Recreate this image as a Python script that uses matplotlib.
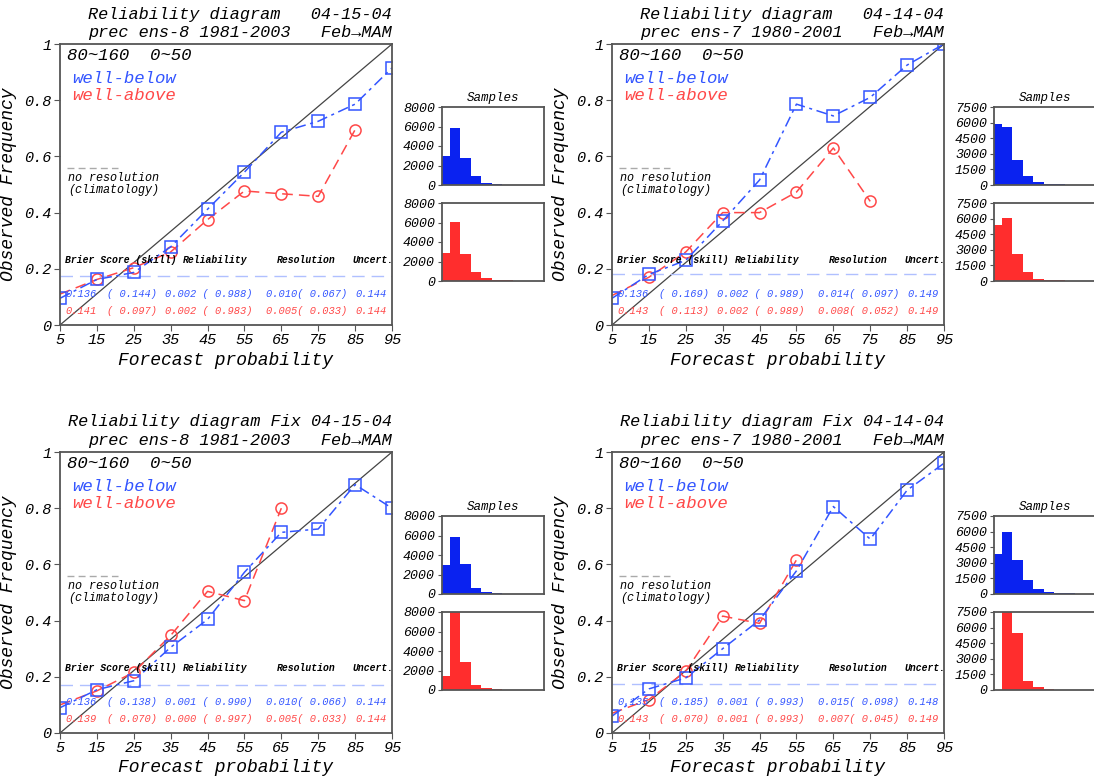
import matplotlib
matplotlib.use("Agg")
import matplotlib.pyplot as plt

plt.rcParams['font.family'] = ['Liberation Mono', 'DejaVu Sans Mono']
plt.rcParams['font.style'] = 'italic'

# forecast probability bins (percent)
probs = [5, 15, 25, 35, 45, 55, 65, 75, 85, 95]
bin_edges = [0, 10, 20, 30, 40, 50, 60, 70, 80, 90]

# observed frequency, per panel
tl_below = [0.095, 0.162, 0.187, 0.278, 0.412, 0.544, 0.686, 0.725, 0.786, 0.915]
tl_above = [0.11, 0.162, 0.204, 0.26, 0.375, 0.477, 0.467, 0.458, 0.695]
tr_below = [0.095, 0.18, 0.23, 0.37, 0.516, 0.786, 0.744, 0.81, 0.925, 1.0]
tr_above = [0.105, 0.17, 0.26, 0.40, 0.40, 0.473, 0.63, 0.44]
bl_below = [0.09, 0.154, 0.186, 0.305, 0.404, 0.572, 0.714, 0.726, 0.884, 0.80]
bl_above = [0.10, 0.15, 0.216, 0.347, 0.504, 0.471, 0.80]
br_below = [0.06, 0.157, 0.196, 0.30, 0.402, 0.577, 0.806, 0.69, 0.864, 0.96]
br_above = [0.07, 0.119, 0.22, 0.416, 0.39, 0.616]

# climatology (no resolution) level
tl_clim = 0.174
tr_clim = 0.18
bl_clim = 0.171
br_clim = 0.175

# sample counts per bin
tl_below_n = [3000, 5850, 2800, 900, 250, 100, 50, 30, 20, 20]
tl_above_n = [2850, 6050, 2780, 890, 300, 100, 60, 50, 30, 20]
tr_below_n = [5850, 5600, 2400, 850, 290, 130, 60, 40, 30, 20]
tr_above_n = [5350, 6080, 2600, 870, 225, 100, 60, 40, 30, 20]
bl_below_n = [3000, 5880, 3080, 580, 240, 100, 50, 30, 20, 20]
bl_above_n = [1470, 8600, 2870, 550, 170, 70, 30, 10, 0, 0]
br_below_n = [3850, 5930, 3240, 1310, 480, 190, 100, 50, 30, 20]
br_above_n = [0, 8000, 5510, 865, 256, 100, 40, 20, 10, 0]

# scores
tl_scores = (["0.136", "( 0.144)", "0.002 ( 0.988)", "0.010( 0.067)", "0.144"],
             ["0.141", "( 0.097)", "0.002 ( 0.983)", "0.005( 0.033)", "0.144"])
tr_scores = (["0.136", "( 0.169)", "0.002 ( 0.989)", "0.014( 0.097)", "0.149"],
             ["0.143", "( 0.113)", "0.002 ( 0.989)", "0.008( 0.052)", "0.149"])
bl_scores = (["0.136", "( 0.138)", "0.001 ( 0.990)", "0.010( 0.066)", "0.144"],
             ["0.139", "( 0.070)", "0.000 ( 0.997)", "0.005( 0.033)", "0.144"])
br_scores = (["0.135", "( 0.185)", "0.001 ( 0.993)", "0.015( 0.098)", "0.148"],
             ["0.143", "( 0.070)", "0.001 ( 0.993)", "0.007( 0.045)", "0.149"])

tl_title = ["Reliability diagram   04-15-04", "prec ens-8 1981-2003   Feb\u2192MAM"]
tr_title = ["Reliability diagram   04-14-04", "prec ens-7 1980-2001   Feb\u2192MAM"]
bl_title = ["Reliability diagram Fix 04-15-04", "prec ens-8 1981-2003   Feb\u2192MAM"]
br_title = ["Reliability diagram Fix 04-14-04", "prec ens-7 1980-2001   Feb\u2192MAM"]

blue = "#3355ff"
red = "#ff4848"
blue_bar = "#0a22f0"
red_bar = "#ff2d2d"
frame = "#555555"

W, H = 1094, 776
fig = plt.figure(figsize=(W / 100, H / 100), dpi=100)


def box(x0, y0, x1, y1):
    # pixel box (top-left origin) -> figure fraction
    return [x0 / W, 1 - y1 / H, (x1 - x0) / W, (y1 - y0) / H]


def style_frame(ax):
    for s in ax.spines.values():
        s.set_color(frame)
        s.set_linewidth(1.3)


def main_panel(px, py, below, above, clim, scores, title):
    ax = fig.add_axes(box(px, py, px + 332, py + 281))
    ax.plot([5, 95], [0, 1], color="#444444", lw=0.9)
    ax.axhline(clim, color="#b0c0ff", lw=1.0, dashes=(9, 5))
    ax.plot(probs[:len(above)], above, color=red, lw=1.1, dashes=(7, 4),
            marker="o", ms=8, mfc="none", mec=red, mew=1.1,
            markevery=list(range(1, len(above))))
    ax.plot(probs[:len(below)], below, color=blue, lw=1.1, dashes=(7, 3, 2, 3),
            marker="s", ms=8, mfc="none", mec=blue, mew=1.1)
    ax.set_xlim(5, 95)
    ax.set_ylim(0, 1)
    ax.set_xticks(probs)
    ax.set_yticks([0, 0.2, 0.4, 0.6, 0.8, 1])
    ax.set_yticklabels(["0", "0.2", "0.4", "0.6", "0.8", "1"])
    ax.tick_params(labelsize=11, length=4, color=frame, pad=2)
    ax.set_xlabel("Forecast probability", fontsize=13, labelpad=3)
    ax.set_ylabel("Observed Frequency", fontsize=13, labelpad=5)
    style_frame(ax)

    ax.text(7.0, 0.96, "80~160  0~50", fontsize=12.5, va="center")
    ax.text(8.2, 0.879, "well-below", fontsize=12.5, color=blue, va="center")
    ax.text(8.2, 0.815, "well-above", fontsize=12.5, color=red, va="center")
    ax.plot([7, 20.7], [0.559, 0.559], color="#aaaaaa", lw=1.0, dashes=(5, 3))
    ax.text(7.3, 0.523, "no resolution", fontsize=8.5, va="center")
    ax.text(7.3, 0.48, "(climatology)", fontsize=8.5, va="center")

    ax.text(6.4, 0.231, "Brier Score (skill)", fontsize=7, va="center", weight="bold")
    ax.text(38.3, 0.231, "Reliability", fontsize=7, va="center", weight="bold")
    ax.text(63.8, 0.231, "Resolution", fontsize=7, va="center", weight="bold")
    ax.text(84.4, 0.231, "Uncert.", fontsize=7, va="center", weight="bold")
    cols = [6.4, 17.7, 33.5, 60.8, 85.2]
    for row, yy, c in [(scores[0], 0.11, blue), (scores[1], 0.05, red)]:
        for xx, s in zip(cols, row):
            ax.text(xx, yy, s, fontsize=7.5, color=c, va="center")

    fig.text((px + 332) / W, 1 - (py - 30) / H, title[0], fontsize=12.2,
             ha="right", va="center")
    fig.text((px + 332) / W, 1 - (py - 12) / H, title[1], fontsize=12.2,
             ha="right", va="center")
    return ax


def hist_panel(px, py, counts, color, top, step, title=None):
    ax = fig.add_axes(box(px, py, px + 102, py + 78))
    ax.bar(bin_edges, counts, width=10, align="edge", color=color, lw=0)
    ax.set_xlim(2.5, 100)
    ax.set_ylim(0, top)
    ax.set_xticks([])
    ax.set_yticks(list(range(0, top + 1, step)))
    ax.tick_params(labelsize=9.5, length=3, color=frame, pad=2)
    style_frame(ax)
    if title:
        ax.set_title(title, fontsize=9, pad=4)
    return ax


main_panel(60, 44, tl_below, tl_above, tl_clim, tl_scores, tl_title)
main_panel(612, 44, tr_below, tr_above, tr_clim, tr_scores, tr_title)
main_panel(60, 452, bl_below, bl_above, bl_clim, bl_scores, bl_title)
main_panel(612, 452, br_below, br_above, br_clim, br_scores, br_title)

hist_panel(442, 107, tl_below_n, blue_bar, 8000, 2000, "Samples")
hist_panel(442, 203, tl_above_n, red_bar, 8000, 2000)
hist_panel(994, 107, tr_below_n, blue_bar, 7500, 1500, "Samples")
hist_panel(994, 203, tr_above_n, red_bar, 7500, 1500)
hist_panel(442, 516, bl_below_n, blue_bar, 8000, 2000, "Samples")
hist_panel(442, 612, bl_above_n, red_bar, 8000, 2000)
hist_panel(994, 516, br_below_n, blue_bar, 7500, 1500, "Samples")
hist_panel(994, 612, br_above_n, red_bar, 7500, 1500)

fig.savefig("out.png", dpi=100)
